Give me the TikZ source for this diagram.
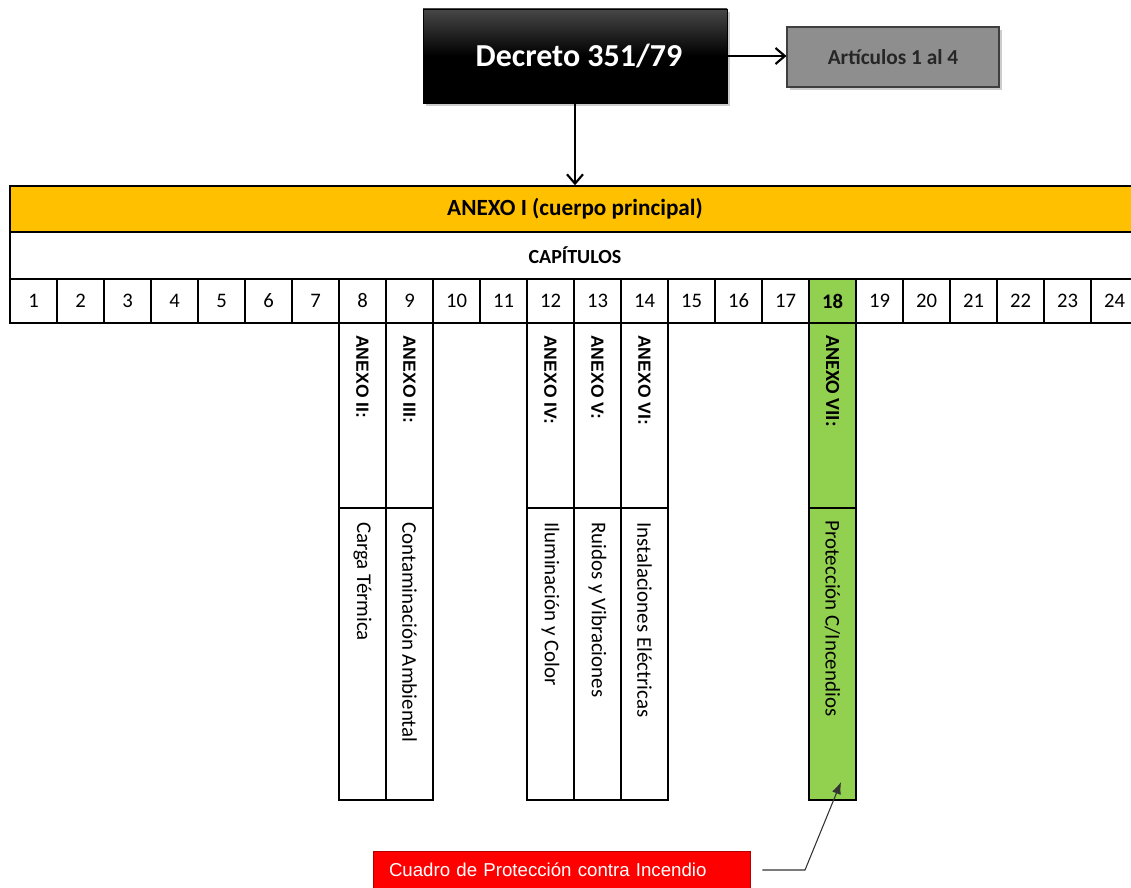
\documentclass[tikz,border=0pt]{standalone}
\usepackage{fontspec}
\setmainfont{Carlito}
\newfontfamily\arialf{Liberation Sans}
\usetikzlibrary{arrows.meta,shadows}
\definecolor{orangeA}{HTML}{FFC000}
\definecolor{greenA}{HTML}{92D050}
\definecolor{redA}{HTML}{FF0000}
\definecolor{grayA}{HTML}{8E8E8E}
\definecolor{grayB}{HTML}{3F3F3F}
\begin{document}
\begin{tikzpicture}[x=0.75pt,y=-0.75pt,
  tbl/.style={draw=black,line width=1.1pt,minimum width=35.25pt,minimum height=33pt,inner sep=0pt,font=\fontsize{15.5}{18}\selectfont},
  colbox/.style={draw=black,line width=1.1pt,minimum width=35.25pt,inner sep=0pt},
  upbox/.style={colbox,minimum height=138.75pt},
  lowbox/.style={colbox,minimum height=219pt},
  vtxt/.style={rotate=-90,anchor=west,inner sep=0pt,font=\fontsize{15.7}{18}\selectfont},
  vhead/.style={rotate=-90,anchor=west,inner sep=0pt,font=\arialf\bfseries\fontsize{13.2}{15}\selectfont},
  rowbox/.style={draw=black,line width=1.1pt,minimum width=847.5pt,inner sep=0pt,font=\bfseries\fontsize{15}{18}\selectfont},
  barb/.style={line width=1.6pt,-{Straight Barb[length=7pt,width=12pt]}},
  shad/.style={drop shadow={shadow xshift=2.5pt,shadow yshift=-2.5pt,opacity=0.4}}
]
\useasboundingbox (0,0) rectangle (1131,888);
\clip (0,0) rectangle (1131,888);

% top boxes
\node[shad,draw=black,top color=black!72,bottom color=black,middle color=black,
  minimum width=228pt,minimum height=70.5pt,inner sep=0pt,text=white,
  font=\bfseries\fontsize{24}{28}\selectfont] (dec) at (575,56) {\hspace*{6pt}Decreto 351/79};
\node[shad,draw=grayB,line width=0.8pt,fill=grayA,
  minimum width=159pt,minimum height=45pt,inner sep=0pt,text=black!85,
  font=\bfseries\fontsize{16}{19}\selectfont] (art) at (893,57) {Artículos 1 al 4};

% band rows
\node[rowbox,fill=orangeA,minimum height=34.5pt,font=\bfseries\fontsize{17.4}{20}\selectfont] (band) at (575,209) {ANEXO I (cuerpo principal)};
\node[rowbox,fill=white,minimum height=35.25pt] (cap) at (575,255.5) {CAPÍTULOS};

\draw[barb] (dec.east) -- (dec.east -| art.west);
\draw[barb] (dec.south) -- (band.north);

% chapter cells
\foreach \i in {1,...,17,19,20,21,22,23,24}
  \node[tbl] (c\i) at ({33.5+47*(\i-1)},301) {\i};
\node[tbl,fill=greenA,font=\bfseries\fontsize{15.5}{18}\selectfont] (c18) at ({33.5+47*17},301) {18};

% annex columns
\foreach \i/\h/\t in {8/II:/Carga Térmica,9/III:/Contaminación Ambiental,12/IV:/Iluminación y Color,13/V:/Ruidos y Vibraciones,14/VI:/Instalaciones Eléctricas}{
  \node[upbox] (u\i) at ({33.5+47*(\i-1)},415.5) {};
  \node[lowbox] (l\i) at ({33.5+47*(\i-1)},654) {};
  \node[vhead] (hu\i) at ({33.5+47*(\i-1)},335) {ANEXO \h};
  \node[vtxt] (tl\i) at ({33.5+47*(\i-1)},522) {\t};
}
\node[upbox,fill=greenA] (u18) at ({33.5+47*17},415.5) {};
\node[lowbox,fill=greenA] (l18) at ({33.5+47*17},654) {};
\node[vtxt,font=\bfseries\fontsize{15}{18}\selectfont] (hu18) at ({33.5+47*17},335) {ANEXO VII:};
\node[vtxt] (tl18) at ({33.5+47*17},520) {Protección C/Incendios};

% red callout
\node[draw=red!70!black,line width=0.6pt,fill=redA,text=white,
  text width=258.75pt,align=left,inner xsep=12pt,inner ysep=0pt,minimum height=28.5pt,
  font=\arialf\fontsize{14}{16}\selectfont] (red) at (561.5,870) {Cuadro de Protección contra Incendio};
\coordinate (bend) at (805,870);
\coordinate (tip) at (841,782);
\draw[line width=0.8pt,draw=black!80,-{Latex[length=9pt,width=7pt]}]
  ([xshift=9pt]red.east) -- (bend) -- (tip);
\end{tikzpicture}
\end{document}
